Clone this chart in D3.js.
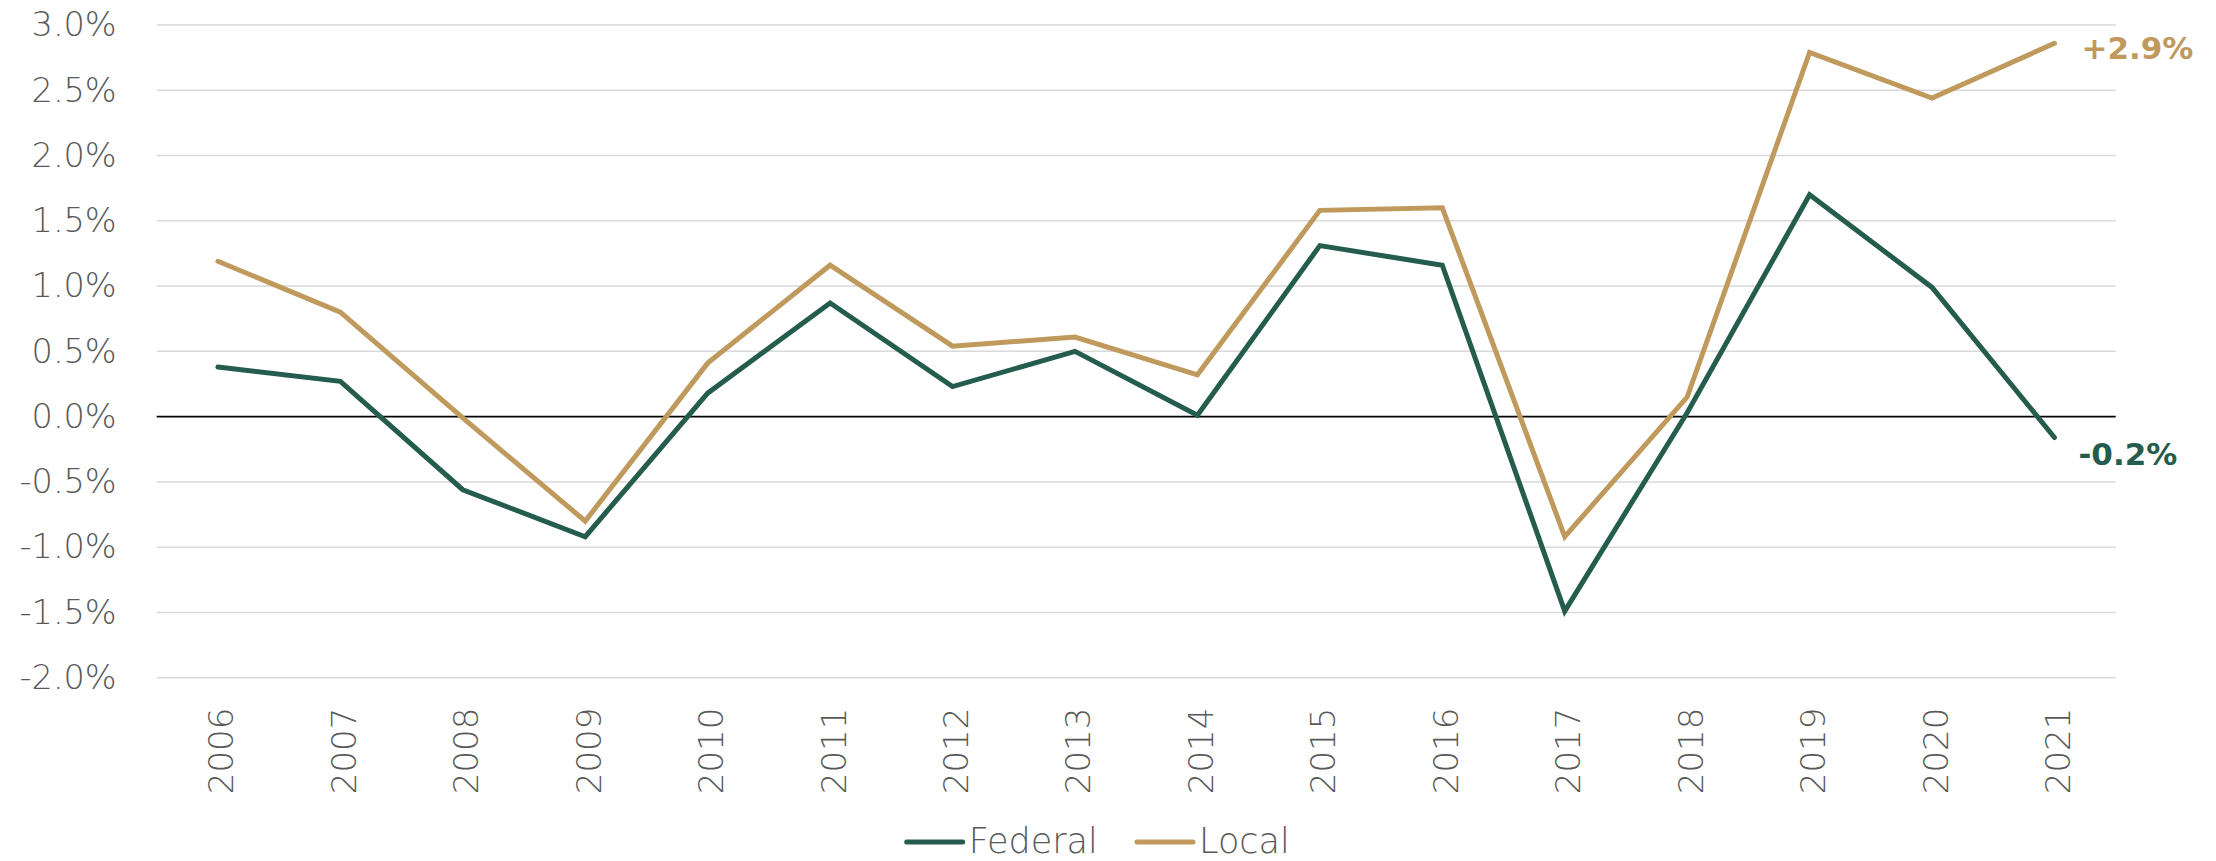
<!DOCTYPE html>
<html>
<head>
<meta charset="utf-8">
<script src="https://cdn.jsdelivr.net/npm/d3@7"></script>
<style>
  html, body { margin: 0; padding: 0; background: #fff; }
  svg { display: block; }
  text { font-family: "DejaVu Sans", "Inter", sans-serif; }
</style>
</head>
<body>
<svg id="chart" width="2216" height="861"></svg>
<script>
// ---- data ----
const years = ["2006","2007","2008","2009","2010","2011","2012","2013","2014","2015","2016","2017","2018","2019","2020","2021"];
const federal = [0.38, 0.27, -0.56, -0.92, 0.18, 0.87, 0.23, 0.50, 0.01, 1.31, 1.16, -1.49, 0.03, 1.70, 0.99, -0.16];
const local   = [1.19, 0.80, -0.01, -0.80, 0.41, 1.16, 0.54, 0.61, 0.32, 1.58, 1.60, -0.92, 0.15, 2.79, 2.44, 2.86];
const yTicks = [-2.0, -1.5, -1.0, -0.5, 0.0, 0.5, 1.0, 1.5, 2.0, 2.5, 3.0];
const seriesNames = ["Federal", "Local"];
const endLabels = ["-0.2%", "+2.9%"];

// ---- layout ----
const colors = { Federal: "#245d4d", Local: "#c09a5c" };
const plotL = 156.7, plotR = 2115.7, plotT = 25, plotB = 677.7;

const svg = d3.select("#chart");

const x = d3.scalePoint().domain(years).range([plotL, plotR]).padding(0.5);
const y = d3.scaleLinear().domain([-2, 3]).range([plotB, plotT]);

// gridlines
svg.append("g").selectAll("line")
  .data(yTicks.filter(d => d !== 0))
  .join("line")
  .attr("x1", plotL).attr("x2", plotR)
  .attr("y1", d => y(d)).attr("y2", d => y(d))
  .attr("stroke", "#d9d9d9").attr("stroke-width", 1.5);

// y axis labels
const yAxis = d3.axisLeft(y).tickValues(yTicks).tickFormat(d => d.toFixed(1) + "%").tickSize(0).tickPadding(0);
const gy = svg.append("g").attr("transform", `translate(${plotL - 40},0)`).call(yAxis);
gy.select(".domain").remove();
gy.selectAll("text")
  .attr("fill", "#595959")
  .style("font-family", "'DejaVu Sans', sans-serif")
  .style("font-size", "33.5px")
  .style("font-weight", "200");

// x axis labels (rotated)
const xAxis = d3.axisBottom(x).tickSize(0).tickPadding(0);
const gx = svg.append("g").attr("transform", `translate(0,${plotB})`).call(xAxis);
gx.select(".domain").remove();
gx.selectAll("text")
  .attr("fill", "#595959")
  .style("font-family", "'DejaVu Sans', sans-serif")
  .style("font-size", "34px")
  .style("font-weight", "200")
  .attr("text-anchor", "end")
  .attr("dominant-baseline", "central")
  .attr("dy", null)
  .attr("y", 0)
  .attr("transform", "translate(3,30) rotate(-90)");

// zero line
svg.append("line")
  .attr("x1", plotL).attr("x2", plotR)
  .attr("y1", y(0)).attr("y2", y(0))
  .attr("stroke", "#000").attr("stroke-width", 1.6);

// lines
const line = d3.line().x((d, i) => x(years[i])).y(d => y(d));
const data = { Federal: federal, Local: local };
seriesNames.forEach(name => {
  svg.append("path")
    .datum(data[name])
    .attr("d", line)
    .attr("fill", "none")
    .attr("stroke", colors[name])
    .attr("stroke-width", 5)
    .attr("stroke-linejoin", "miter")
    .attr("stroke-linecap", "round");
});

// end labels
const last = years.length - 1;
svg.append("text")
  .attr("x", x(years[last]) + 24).attr("y", y(federal[last]) + 16)
  .attr("dominant-baseline", "central")
  .attr("fill", colors.Federal)
  .style("font-size", "31px").style("font-weight", "700")
  .text(endLabels[0]);
svg.append("text")
  .attr("x", x(years[last]) + 27).attr("y", y(local[last]) + 5)
  .attr("dominant-baseline", "central")
  .attr("fill", colors.Local)
  .style("font-size", "31px").style("font-weight", "700")
  .text(endLabels[1]);

// legend
const legendY = 842;
const legendItems = [
  { name: "Federal", x0: 906.7 },
  { name: "Local", x0: 1137 }
];
legendItems.forEach(it => {
  svg.append("line")
    .attr("x1", it.x0).attr("x2", it.x0 + 56)
    .attr("y1", legendY).attr("y2", legendY)
    .attr("stroke", colors[it.name]).attr("stroke-width", 5)
    .attr("stroke-linecap", "round");
  svg.append("text")
    .attr("x", it.x0 + 62).attr("y", 853)
    .attr("fill", "#595959")
    .style("font-size", "35px").style("font-weight", "200")
    .text(it.name);
});
</script>
</body>
</html>
